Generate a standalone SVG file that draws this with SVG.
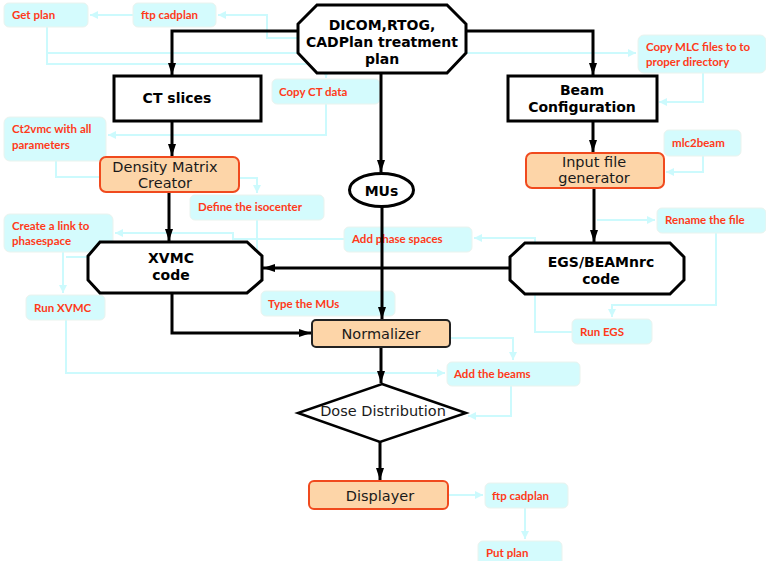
<svg xmlns="http://www.w3.org/2000/svg" width="766" height="561" viewBox="0 0 766 561">
<style>
.main{fill:#fff;stroke:#000;stroke-width:3}
.proc{fill:#FDD5A8;stroke:#F04A1E;stroke-width:2}
.lab{fill:#D4FBFD;stroke:#EAF3EE;stroke-width:1}
.bt{font-family:"DejaVu Sans",Verdana,sans-serif;font-weight:bold;font-size:14px;fill:#000;text-anchor:middle}
.nt{font-family:"DejaVu Sans",Verdana,sans-serif;font-size:14.5px;fill:#1a1a1a;text-anchor:middle}
.lt{font-family:Lato,"Liberation Sans",sans-serif;font-weight:bold;font-size:11.5px;fill:#FF3A1A}
.bk{fill:none;stroke:#000;stroke-width:3}
.cy{fill:none;stroke:#CCFAFD;stroke-width:2}
</style>
<defs>
<marker id="ab" markerUnits="userSpaceOnUse" markerWidth="14" markerHeight="10" refX="12" refY="4" orient="auto"><path d="M0,0 L12,4 L0,8 z" fill="#000"/></marker>
<marker id="ac" markerUnits="userSpaceOnUse" markerWidth="10" markerHeight="10" refX="8" refY="4" orient="auto"><path d="M0,0 L8,4 L0,8 z" fill="#CCFAFD"/></marker>
</defs>
<rect width="766" height="561" fill="#fff"/>
<g id="connectors-cyan">
<path class="cy" d="M298,38 H267 V15 H218" marker-end="url(#ac)"/>
<path class="cy" d="M133,15 H90" marker-end="url(#ac)"/>
<path class="cy" d="M47,27 V64 H326 V78" marker-end="url(#ac)"/>
<path class="cy" d="M47,53 H636" marker-end="url(#ac)"/>
<path class="cy" d="M703,73 V102 H659" marker-end="url(#ac)"/>
<path class="cy" d="M703,156 V172 H666" marker-end="url(#ac)"/>
<path class="cy" d="M597,220 H655" marker-end="url(#ac)"/>
<path class="cy" d="M716,233 V305 H612 V317" marker-end="url(#ac)"/>
<path class="cy" d="M572,332 H535 V238 H474" marker-end="url(#ac)"/>
<path class="cy" d="M344,239 H233 V233 H115" marker-end="url(#ac)"/>
<path class="cy" d="M326,104 V135 H108" marker-end="url(#ac)"/>
<path class="cy" d="M56,161 V177 H100"/>
<path class="cy" d="M239,178 H257 V193" marker-end="url(#ac)"/>
<path class="cy" d="M257,220 V257 H66"/>
<path class="cy" d="M63,252 V293" marker-end="url(#ac)"/>
<path class="cy" d="M66,320 V373 H445" marker-end="url(#ac)"/>
<path class="cy" d="M450,338 H513 V360" marker-end="url(#ac)"/>
<path class="cy" d="M511,386 V416 H468" marker-end="url(#ac)"/>
<path class="cy" d="M448,495 H483" marker-end="url(#ac)"/>
<path class="cy" d="M525,508 V539" marker-end="url(#ac)"/>
</g>
<g id="l-getplan"><rect class="lab" x="4" y="3" width="84" height="24" rx="5"/><text class="lt" x="12" y="19">Get plan</text></g>
<g id="l-ftp1"><rect class="lab" x="133" y="3" width="83" height="24" rx="5"/><text class="lt" x="141" y="19">ftp cadplan</text></g>
<g id="l-copyct"><rect class="lab" x="272" y="79" width="108" height="25" rx="5"/><text class="lt" x="279" y="96">Copy CT data</text></g>
<g id="l-ct2vmc"><rect class="lab" x="4" y="117" width="102" height="44" rx="6"/><text class="lt" x="12" y="133">Ct2vmc with all</text><text class="lt" x="12" y="149">parameters</text></g>
<g id="l-iso"><rect class="lab" x="190" y="195" width="134" height="25" rx="5"/><text class="lt" x="198" y="211">Define the isocenter</text></g>
<g id="l-link"><rect class="lab" x="4" y="214" width="109" height="38" rx="6"/><text class="lt" x="12" y="230">Create a link to</text><text class="lt" x="12" y="245">phasespace</text></g>
<g id="l-addps"><rect class="lab" x="344" y="227" width="128" height="25" rx="5"/><text class="lt" x="352" y="243">Add phase spaces</text></g>
<g id="l-runxvmc"><rect class="lab" x="26" y="295" width="79" height="25" rx="5"/><text class="lt" x="34" y="312">Run XVMC</text></g>
<g id="l-typemus"><rect class="lab" x="261" y="291" width="134" height="25" rx="5"/><text class="lt" x="268" y="308">Type the MUs</text></g>
<g id="l-copymlc"><rect class="lab" x="638" y="35" width="128" height="38" rx="6"/><text class="lt" x="646" y="51">Copy MLC files to to</text><text class="lt" x="646" y="66">proper directory</text></g>
<g id="l-mlc2beam"><rect class="lab" x="664" y="130" width="77" height="26" rx="5"/><text class="lt" x="672" y="147">mlc2beam</text></g>
<g id="l-rename"><rect class="lab" x="657" y="208" width="109" height="25" rx="5"/><text class="lt" x="665" y="224">Rename the file</text></g>
<g id="l-runegs"><rect class="lab" x="572" y="319" width="80" height="25" rx="5"/><text class="lt" x="580" y="336">Run EGS</text></g>
<g id="l-addbeams"><rect class="lab" x="447" y="362" width="133" height="24" rx="5"/><text class="lt" x="454" y="378">Add the beams</text></g>
<g id="l-ftp2"><rect class="lab" x="485" y="483" width="83" height="25" rx="5"/><text class="lt" x="492" y="500">ftp cadplan</text></g>
<g id="l-putplan"><rect class="lab" x="478" y="541" width="84" height="25" rx="5"/><text class="lt" x="486" y="557">Put plan</text></g>
<g id="connectors-black">
<path class="bk" d="M298,31 H172 V75" marker-end="url(#ab)"/>
<path class="bk" d="M466,31 H593 V75" marker-end="url(#ab)"/>
<path class="bk" d="M172,121 V156" marker-end="url(#ab)"/>
<path class="bk" d="M169,192 V241" marker-end="url(#ab)"/>
<path class="bk" d="M381,73 V172" marker-end="url(#ab)"/>
<path class="bk" d="M382,207 V319" marker-end="url(#ab)"/>
<path class="bk" d="M510,268 H263" marker-end="url(#ab)"/>
<path class="bk" d="M172,293 V333 H311" marker-end="url(#ab)"/>
<path class="bk" d="M381,347 V383" marker-end="url(#ab)"/>
<path class="bk" d="M380,442 V480" marker-end="url(#ab)"/>
<path class="bk" d="M593,121 V152" marker-end="url(#ab)"/>
<path class="bk" d="M594,188 V242" marker-end="url(#ab)"/>
</g>
<g id="dicom"><polygon class="main" points="317,5 447,5 466,24 466,53 447,73 317,73 298,53 298,24"/>
<text class="bt" x="382" y="30">DICOM,RTOG,</text><text class="bt" x="382" y="47">CADPlan treatment</text><text class="bt" x="382" y="64">plan</text></g>
<g id="ctslices"><rect class="main" x="114" y="76" width="147" height="45"/><text class="bt" x="177" y="103" font-size="15">CT slices</text></g>
<g id="beam"><rect class="main" x="508" y="76" width="149" height="45"/><text class="bt" x="582" y="95">Beam</text><text class="bt" x="582" y="112">Configuration</text></g>
<g id="density"><rect class="proc" x="100" y="157" width="139" height="35" rx="6"/><text class="nt" x="165" y="172">Density Matrix</text><text class="nt" x="165" y="188">Creator</text></g>
<g id="input"><rect class="proc" x="526" y="153" width="138" height="35" rx="6"/><text class="nt" x="594" y="167">Input file</text><text class="nt" x="594" y="183">generator</text></g>
<g id="mus"><ellipse class="main" cx="381.5" cy="190" rx="32" ry="16.5"/><text class="bt" x="381.5" y="196" font-size="15">MUs</text></g>
<g id="xvmc"><polygon class="main" points="100,242 247,242 262,256 262,280 247,293 100,293 88,280 88,256"/>
<text class="bt" x="171" y="263">XVMC</text><text class="bt" x="171" y="280">code</text></g>
<g id="egs"><polygon class="main" points="525,243 670,243 684,257 684,280 670,294 525,294 510,280 510,257"/>
<text class="bt" x="601" y="267">EGS/BEAMnrc</text><text class="bt" x="601" y="284">code</text></g>
<g id="normalizer"><rect x="312" y="320" width="138" height="27" rx="4" fill="#FDD5A8" stroke="#222" stroke-width="2"/><text class="nt" x="381" y="339" font-size="15">Normalizer</text></g>
<g id="dose"><polygon points="382,384 466,413 380,442 298,413" fill="#fff" stroke="#000" stroke-width="2.5"/><text class="nt" x="383" y="416">Dose Distribution</text></g>
<g id="displayer"><rect class="proc" x="309" y="481" width="139" height="28" rx="5"/><text class="nt" x="380" y="501" font-size="15">Displayer</text></g>
</svg>
